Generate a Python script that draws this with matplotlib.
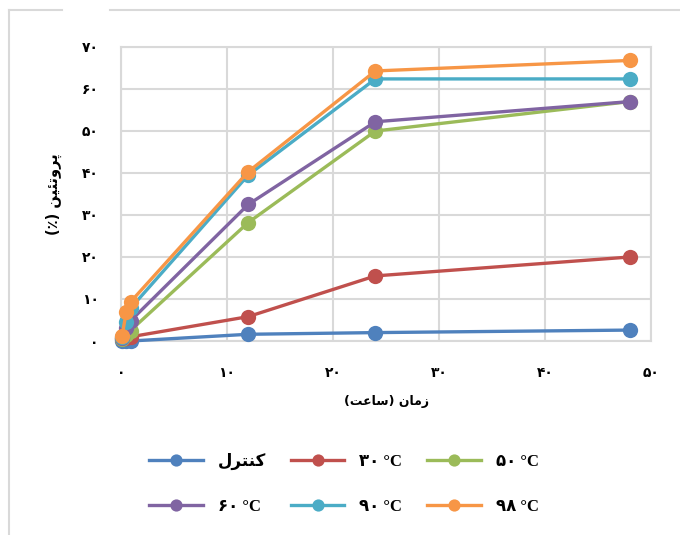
import matplotlib
matplotlib.use("Agg")
import matplotlib.pyplot as plt
from matplotlib.lines import Line2D

# ---- data -------------------------------------------------------------
hours = [0.1, 0.5, 0.9, 12, 24, 48]
control = [0.0, 0.0, 0.0, 1.6, 2.0, 2.6]
t30 = [0.4, 0.8, 1.0, 5.8, 15.5, 20.0]
t50 = [0.4, 1.5, 2.5, 28.2, 50.0, 57.0]
t60 = [0.7, 3.0, 4.8, 32.5, 52.2, 57.0]
t90 = [1.0, 4.5, 7.8, 39.5, 62.4, 62.4]
t98 = [1.2, 7.0, 9.3, 40.3, 64.3, 66.8]

x_ticks = [0, 10, 20, 30, 40, 50]
y_ticks = [0, 10, 20, 30, 40, 50, 60, 70]

colors = ["#4F81BD", "#C0504D", "#9BBB59", "#8064A2", "#4BACC6", "#F79646"]

# ---- minimal Arabic-script shaping (contextual forms + RTL order) ------
FORMS = {  # isolated, final, initial, medial
    "\u0627": ("\uFE8D", "\uFE8E", None, None),
    "\u0631": ("\uFEAD", "\uFEAE", None, None),
    "\u0632": ("\uFEAF", "\uFEB0", None, None),
    "\u0648": ("\uFEED", "\uFEEE", None, None),
    "\u0645": ("\uFEE1", "\uFEE2", "\uFEE3", "\uFEE4"),
    "\u0646": ("\uFEE5", "\uFEE6", "\uFEE7", "\uFEE8"),
    "\u0633": ("\uFEB1", "\uFEB2", "\uFEB3", "\uFEB4"),
    "\u0639": ("\uFEC9", "\uFECA", "\uFECB", "\uFECC"),
    "\u062A": ("\uFE95", "\uFE96", "\uFE97", "\uFE98"),
    "\u0644": ("\uFEDD", "\uFEDE", "\uFEDF", "\uFEE0"),
    "\u0626": ("\uFE89", "\uFE8A", "\uFE8B", "\uFE8C"),
    "\u067E": ("\uFB56", "\uFB57", "\uFB58", "\uFB59"),
    "\u06CC": ("\uFBFC", "\uFBFD", "\uFBFE", "\uFBFF"),
    "\u06A9": ("\uFB8E", "\uFB8F", "\uFB90", "\uFB91"),
}
MIRROR = {"(": ")", ")": "("}


def shape(text):
    out = []
    n = len(text)
    for i, ch in enumerate(text):
        if ch not in FORMS:
            out.append(ch)
            continue
        prev = text[i - 1] if i > 0 else None
        nxt = text[i + 1] if i < n - 1 else None
        join_prev = prev in FORMS and FORMS[prev][2] is not None
        join_next = FORMS[ch][2] is not None and nxt in FORMS
        iso, fin, ini, med = FORMS[ch]
        if join_prev and join_next:
            out.append(med)
        elif join_next:
            out.append(ini)
        elif join_prev:
            out.append(fin)
        else:
            out.append(iso)
    return "".join(MIRROR.get(c, c) for c in reversed(out))


PERSIAN_DIGITS = str.maketrans("0123456789", "۰۱۲۳۴۵۶۷۸۹")


def fa_num(v):
    return str(v).translate(PERSIAN_DIGITS)


series_labels = [
    shape("کنترل"),
    "۳۰ °C",
    "۵۰ °C",
    "۶۰ °C",
    "۹۰ °C",
    "۹۸ °C",
]
series = [control, t30, t50, t60, t90, t98]

plt.rcParams["font.family"] = ["DejaVu Sans"]
plt.rcParams["font.weight"] = "bold"

W, H = 680, 535
fig = plt.figure(figsize=(W / 100, H / 100), dpi=100)

# chart-area frame
frame_kw = dict(color="#D9D9D9", lw=1.5, transform=fig.transFigure, clip_on=False)
fig.add_artist(Line2D([9 / W, 9 / W], [1 - 10 / H, 0], **frame_kw))
fig.add_artist(Line2D([9 / W, 62 / W], [1 - 10 / H, 1 - 10 / H], **frame_kw))
fig.add_artist(Line2D([110 / W, 1], [1 - 10 / H, 1 - 10 / H], **frame_kw))

left, right, top, bottom = 121, 651, 47, 341
ax = fig.add_axes([left / W, 1 - bottom / H, (right - left) / W, (bottom - top) / H])

handles = []
for ys, c, lab in zip(series, colors, series_labels):
    (h,) = ax.plot(hours, ys, color=c, lw=2.4, marker="o", markersize=11,
                   markeredgewidth=0, label=lab, clip_on=False, zorder=3)
    handles.append(h)

ax.set_xlim(0, 50)
ax.set_ylim(0, 70)
ax.set_xticks(x_ticks)
ax.set_yticks(y_ticks)
ax.set_xticklabels([fa_num(v) for v in x_ticks], fontsize=10, fontweight="bold")
ax.set_yticklabels([fa_num(v) for v in y_ticks], fontsize=10, fontweight="bold")
ax.tick_params(length=0)
ax.tick_params(axis="x", pad=18)
ax.tick_params(axis="y", pad=16)
ax.grid(True, color="#D9D9D9", lw=1.5)
ax.set_axisbelow(True)
for s in ax.spines.values():
    s.set_color("#D9D9D9")
    s.set_linewidth(1.5)

ax.set_xlabel(shape("زمان (ساعت)"), fontsize=9, fontweight="bold", labelpad=11)
ax.set_ylabel(shape("پروتئین (٪)"), fontsize=10.5, fontweight="bold", labelpad=14)

order = [0, 3, 1, 4, 2, 5]
leg = fig.legend([handles[i] for i in order], [series_labels[i] for i in order],
                 ncol=3, loc="center", bbox_to_anchor=(344 / W, 1 - 484 / H),
                 frameon=False,
                 prop=dict(family=["Liberation Serif", "DejaVu Sans"], size=12,
                           weight="bold"),
                 handlelength=3.2, handletextpad=0.9, columnspacing=1.5,
                 labelspacing=1.75, markerscale=0.8)

fig.savefig("out.png", dpi=100)
